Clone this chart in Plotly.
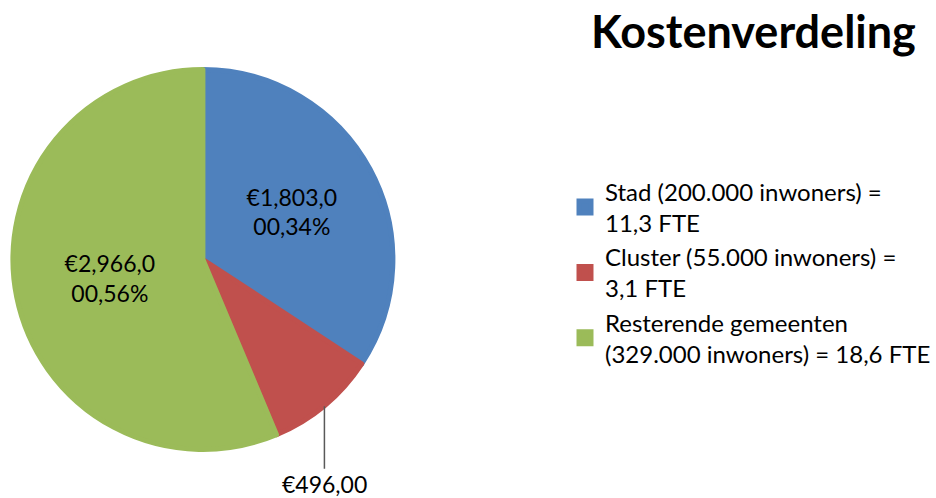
import math
import plotly.graph_objects as go

categories = ["Stad (200.000 inwoners) =<br>11,3 FTE",
              "Cluster (55.000 inwoners) =<br>3,1 FTE",
              "Resterende gemeenten<br>(329.000 inwoners) = 18,6 FTE"]
values = [1803000, 496000, 2966000]
slice_text = ["€1,803,0<br>00,34%", "€496,00", "€2,966,0<br>00,56%"]
colors = ["#4F81BD", "#C0504D", "#9BBB59"]

FONT = "Lato, Open Sans, sans-serif"
W, H = 936, 498
# pie domain in pixels
px0, px1, py0, py1 = 13, 395, 69, 450
dom_x = [px0 / W, px1 / W]
dom_y = [1 - py1 / H, 1 - py0 / H]

inside_text = [t if i != 1 else "" for i, t in enumerate(slice_text)]

fig = go.Figure(go.Pie(
    labels=categories,
    values=values,
    text=inside_text,
    textinfo="text",
    textposition="inside",
    insidetextorientation="horizontal",
    textfont=dict(family=FONT, size=23, color="#000000"),
    marker=dict(colors=colors, line=dict(color=colors, width=5)),
    sort=False,
    direction="clockwise",
    rotation=0,
    domain=dict(x=dom_x, y=dom_y),
    hoverinfo="label+value+percent",
))

# leader line + label for the small slice, located from the data
total = sum(values)
cum = sum(values[:1])
mid_frac = (cum + values[1] / 2) / total
theta = 2 * math.pi * mid_frac
cx = (px0 + px1) / 2
cy = (py0 + py1) / 2
r = (px1 - px0) / 2
ex = cx + r * math.sin(theta)
ey = cy - r * math.cos(theta)
fig.add_annotation(
    x=ex / W, y=1 - ey / H, xref="paper", yref="paper",
    text=slice_text[1], showarrow=True, arrowhead=0, arrowwidth=1.5,
    arrowcolor="#595959", ax=0, ay=78,
    font=dict(family=FONT, size=23, color="#000000"),
)

fig.update_layout(
    width=W, height=H,
    margin=dict(l=0, r=0, t=0, b=0),
    paper_bgcolor="white", plot_bgcolor="white",
    title=dict(text="<b>Kostenverdeling</b>", x=0.805, xanchor="center",
               y=1 - 16 / H, yanchor="top",
               font=dict(family=FONT, size=45, color="#000000")),
    legend=dict(x=0.607, y=0.66, xanchor="left", yanchor="top",
                font=dict(family=FONT, size=24, color="#000000"),
                itemclick=False, valign="middle"),
    showlegend=True,
)

fig.write_html("out.html", config={"displayModeBar": False},
               post_script="document.body.style.margin='0';document.body.style.padding='0';")
